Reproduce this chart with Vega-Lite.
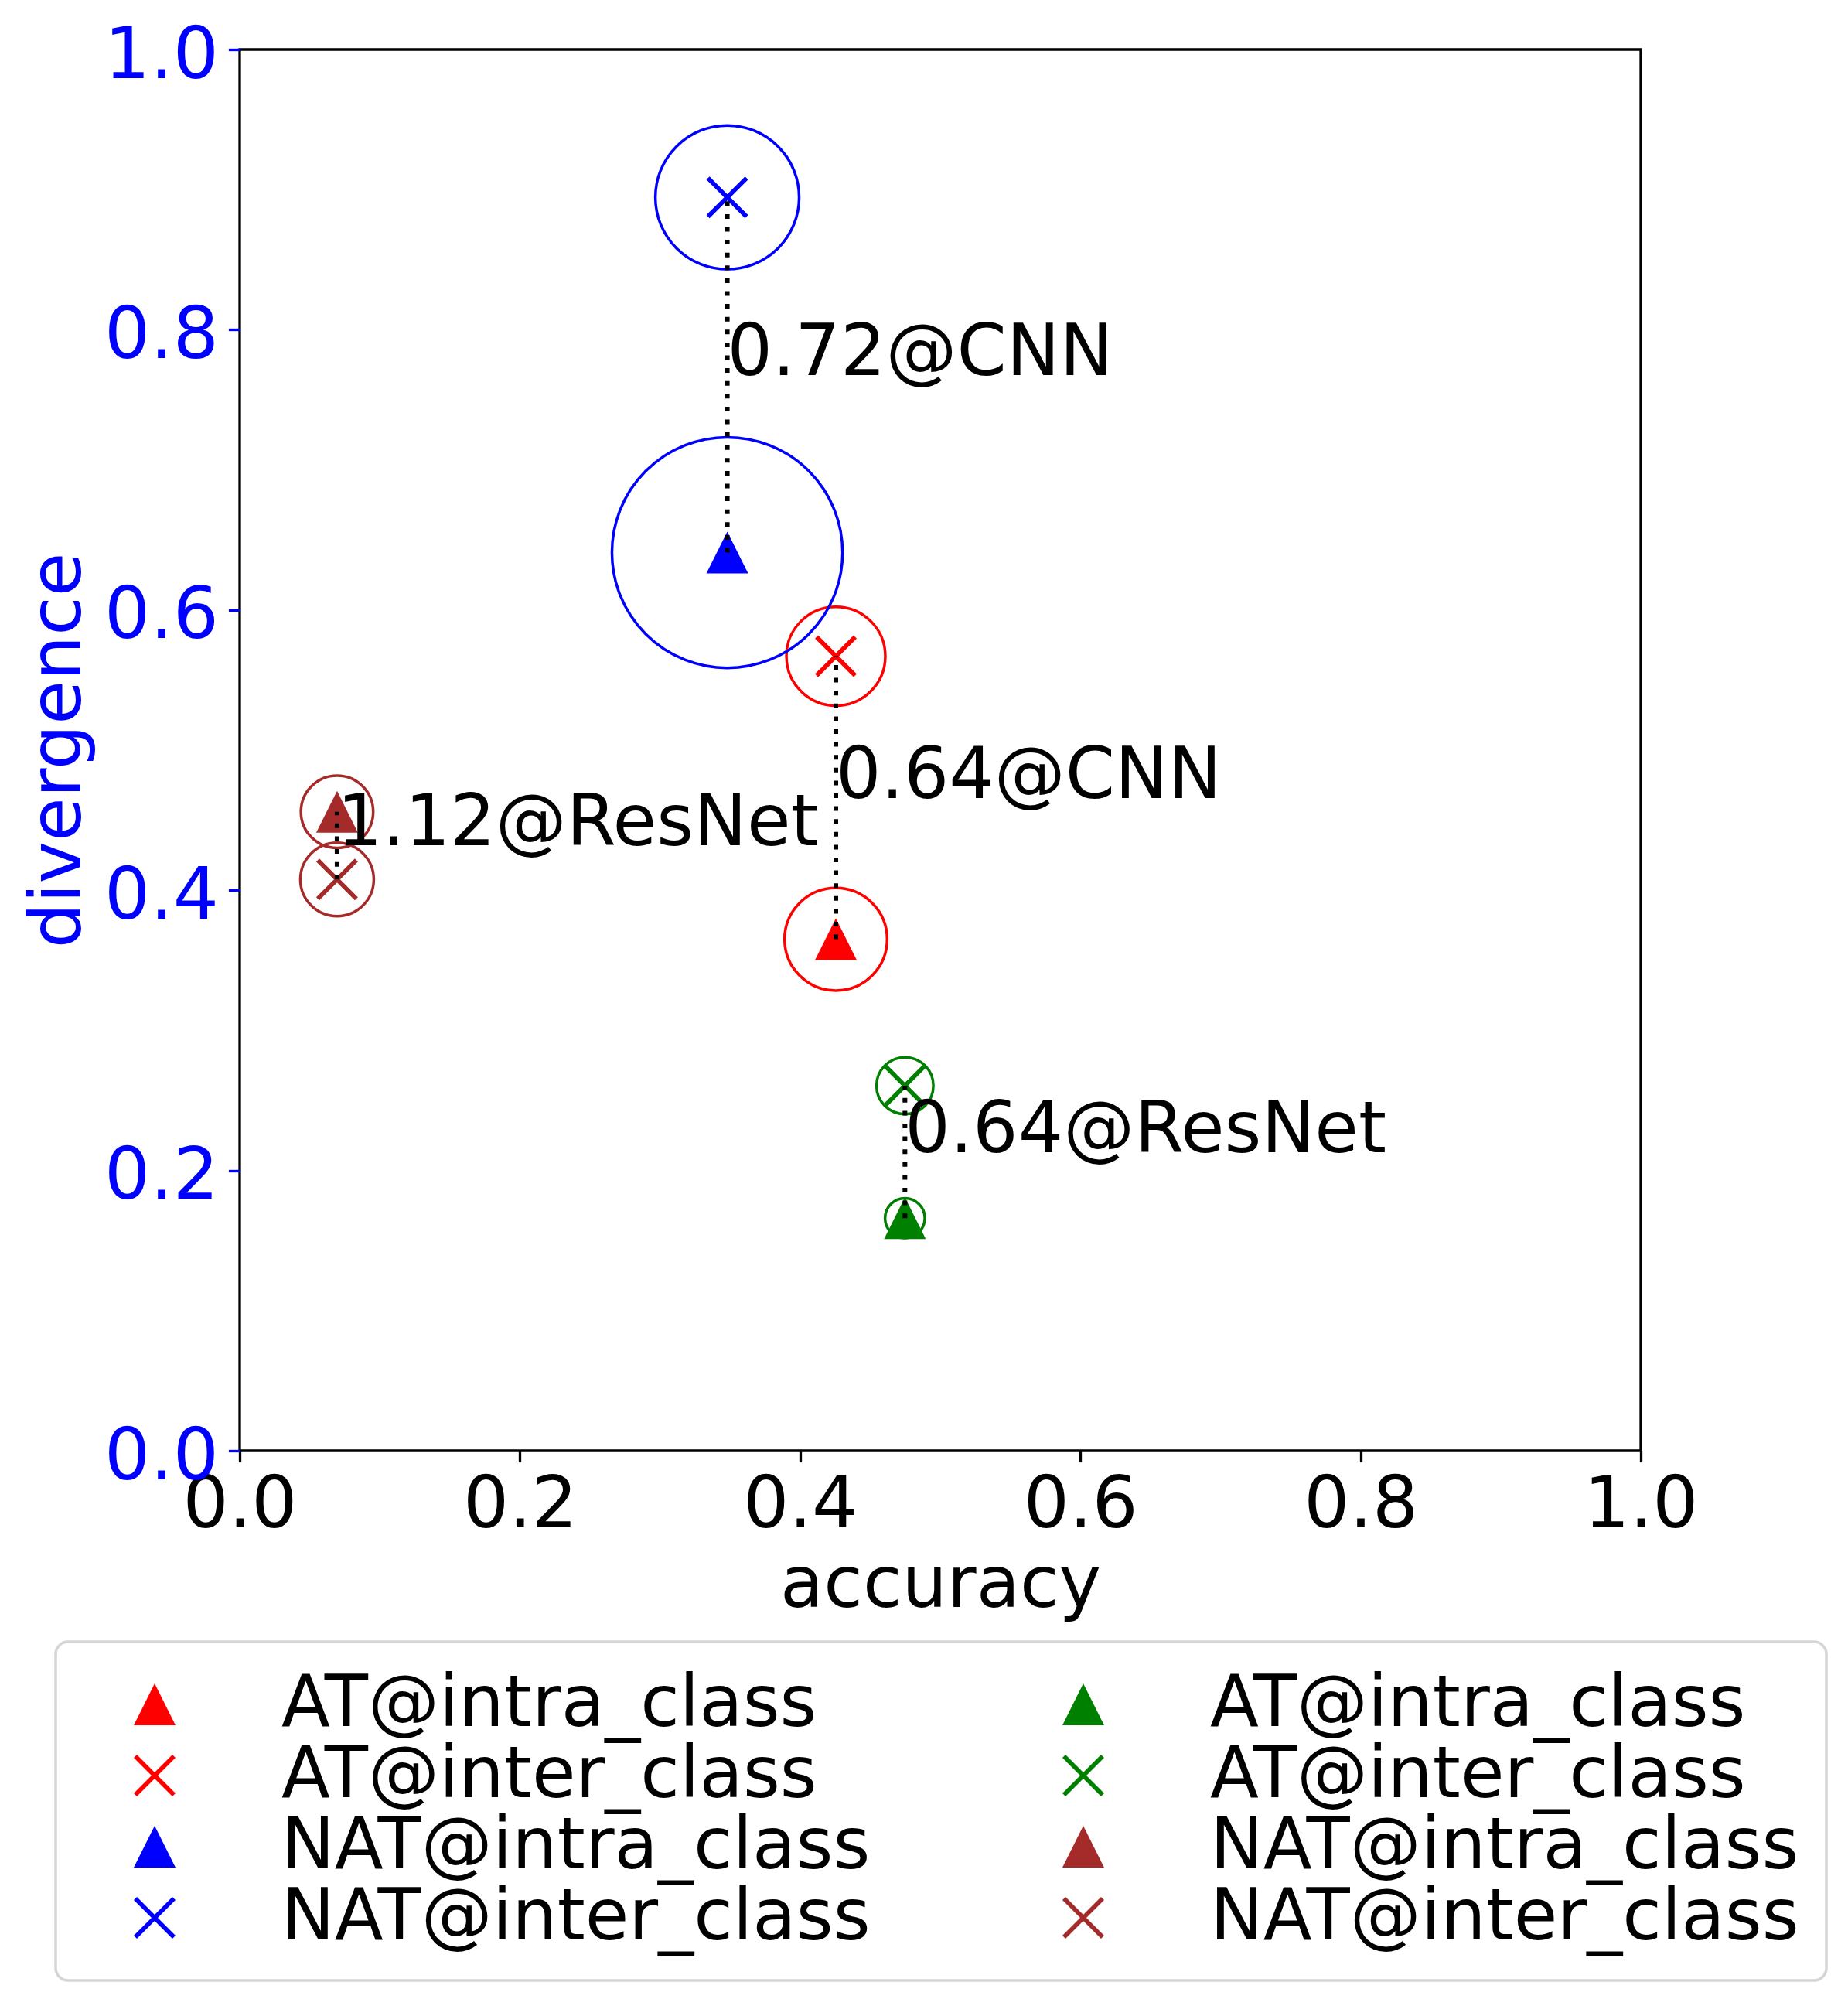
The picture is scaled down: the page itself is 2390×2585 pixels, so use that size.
{
  "$schema": "https://vega.github.io/schema/vega-lite/v6.json",
  "width": 1812,
  "height": 1812,
  "autosize": {"type": "none"},
  "padding": {"left": 310, "top": 64, "right": 268, "bottom": 709},
  "background": "white",
  "config": {
    "font": "DejaVu Sans",
    "view": {"stroke": "black", "strokeWidth": 3.3},
    "axis": {"grid": false, "domain": false, "labelFlush": false, "labelOverlap": false, "titleFontWeight": "normal", "labelFontSize": 93, "titleFontSize": 92, "tickSize": 14.6, "tickWidth": 3.3},
    "legend": {"strokeWidth": 3.5, "strokeColor": "#d5d5d5", "cornerRadius": 16, "fillColor": "white", "padding": 35,
      "labelFont": "DejaVu Sans", "labelFontSize": 92, "labelColor": "black", "labelLimit": 3000, "labelOffset": 118, "symbolOffset": 47,
      "symbolSize": 2916, "symbolOpacity": 1, "symbolStrokeWidth": 0, "columnPadding": 182, "rowPadding": -3}
  },
  "data": {
    "values": [
      {"series": "AT@intra_class|CNN", "note": "0.64@CNN", "accuracy": 0.4255, "divergence": 0.365, "radius": 0.0366},
      {"series": "AT@inter_class|CNN", "note": "0.64@CNN", "accuracy": 0.4255, "divergence": 0.567, "radius": 0.0353},
      {"series": "NAT@intra_class|CNN", "note": "0.72@CNN", "accuracy": 0.348, "divergence": 0.641, "radius": 0.0823},
      {"series": "NAT@inter_class|CNN", "note": "0.72@CNN", "accuracy": 0.348, "divergence": 0.8945, "radius": 0.0513},
      {"series": "AT@intra_class|ResNet", "note": "0.64@ResNet", "accuracy": 0.4748, "divergence": 0.166, "radius": 0.0142},
      {"series": "AT@inter_class|ResNet", "note": "0.64@ResNet", "accuracy": 0.4748, "divergence": 0.2605, "radius": 0.0203},
      {"series": "NAT@intra_class|ResNet", "note": "1.12@ResNet", "accuracy": 0.0695, "divergence": 0.456, "radius": 0.0258},
      {"series": "NAT@inter_class|ResNet", "note": "1.12@ResNet", "accuracy": 0.0695, "divergence": 0.4077, "radius": 0.0262}
    ]
  },
  "layer": [
    {
      "mark": {"type": "point", "shape": "circle", "filled": false, "opacity": 1, "strokeWidth": 3.5},
      "encoding": {
        "x": {"field": "accuracy", "type": "quantitative", "title": "accuracy", "scale": {"domain": [0, 1], "nice": false, "zero": false},
          "axis": {"values": [0, 0.2, 0.4, 0.6, 0.8, 1], "format": ".1f", "labelColor": "black", "tickColor": "black", "titleColor": "black", "labelPadding": 11, "titleBaseline": "alphabetic", "titleY": 201}},
        "y": {"field": "divergence", "type": "quantitative", "title": "divergence", "scale": {"domain": [0, 1], "nice": false, "zero": false},
          "axis": {"values": [0, 0.2, 0.4, 0.6, 0.8, 1], "format": ".1f", "labelColor": "#0000ff", "tickColor": "#0000ff", "titleColor": "#0000ff", "labelPadding": 13, "labelOffset": 8, "titleAngle": 270, "titleBaseline": "alphabetic", "titleX": -207}},
        "stroke": {"field": "series", "type": "nominal", "legend": null,
          "scale": {"domain": ["AT@inter_class|CNN", "AT@intra_class|CNN", "NAT@inter_class|CNN", "NAT@intra_class|CNN", "AT@inter_class|ResNet", "AT@intra_class|ResNet", "NAT@inter_class|ResNet", "NAT@intra_class|ResNet"],
            "range": ["#ff0000", "#ff0000", "#0000ff", "#0000ff", "#008000", "#008000", "#a52a2a", "#a52a2a"]}},
        "size": {"field": "radius", "type": "quantitative", "legend": null, "scale": {"type": "pow", "exponent": 2, "domain": [0, 0.1], "range": [0, 131334]}}
      }
    },
    {
      "mark": {"type": "point", "filled": true, "opacity": 1, "size": 2916, "strokeWidth": 0},
      "encoding": {
        "x": {"field": "accuracy", "type": "quantitative", "title": "accuracy"},
        "y": {"field": "divergence", "type": "quantitative", "title": "divergence"},
        "fill": {"field": "series", "type": "nominal",
          "scale": {"domain": ["AT@intra_class|CNN", "AT@inter_class|CNN", "NAT@intra_class|CNN", "NAT@inter_class|CNN", "AT@intra_class|ResNet", "AT@inter_class|ResNet", "NAT@intra_class|ResNet", "NAT@inter_class|ResNet"],
            "range": ["#ff0000", "#ff0000", "#0000ff", "#0000ff", "#008000", "#008000", "#a52a2a", "#a52a2a"]},
          "legend": {"title": null, "orient": "none", "legendX": -238, "legendY": 2059, "columns": 2, "labelExpr": "split(datum.label, '|')[0]"}},
        "shape": {"field": "series", "type": "nominal",
          "scale": {"domain": ["AT@intra_class|CNN", "AT@inter_class|CNN", "NAT@intra_class|CNN", "NAT@inter_class|CNN", "AT@intra_class|ResNet", "AT@inter_class|ResNet", "NAT@intra_class|ResNet", "NAT@inter_class|ResNet"],
            "range": ["M0,-1L1,1L-1,1Z", "M-0.85,-1L1,0.85L0.85,1L-1,-0.85ZM-1,0.85L0.85,-1L1,-0.85L-0.85,1Z", "M0,-1L1,1L-1,1Z", "M-0.85,-1L1,0.85L0.85,1L-1,-0.85ZM-1,0.85L0.85,-1L1,-0.85L-0.85,1Z", "M0,-1L1,1L-1,1Z", "M-0.85,-1L1,0.85L0.85,1L-1,-0.85ZM-1,0.85L0.85,-1L1,-0.85L-0.85,1Z", "M0,-1L1,1L-1,1Z", "M-0.85,-1L1,0.85L0.85,1L-1,-0.85ZM-1,0.85L0.85,-1L1,-0.85L-0.85,1Z"]},
          "legend": {"title": null, "orient": "none", "legendX": -238, "legendY": 2059, "columns": 2, "labelExpr": "split(datum.label, '|')[0]"}}
      }
    },
    {
      "mark": {"type": "rule", "color": "black", "strokeWidth": 6, "strokeDash": [6, 10.6], "strokeCap": "butt"},
      "encoding": {
        "x": {"field": "accuracy", "type": "quantitative", "title": "accuracy"},
        "y": {"aggregate": "min", "field": "divergence", "type": "quantitative", "title": "divergence"},
        "y2": {"aggregate": "max", "field": "divergence"},
        "detail": {"field": "note", "type": "nominal"}
      }
    },
    {
      "mark": {"type": "text", "align": "left", "baseline": "alphabetic", "fontSize": 92, "color": "black", "font": "DejaVu Sans"},
      "encoding": {
        "x": {"field": "accuracy", "type": "quantitative", "title": "accuracy"},
        "y": {"aggregate": "mean", "field": "divergence", "type": "quantitative", "title": "divergence"},
        "text": {"field": "note", "type": "nominal"}
      }
    }
  ]
}
